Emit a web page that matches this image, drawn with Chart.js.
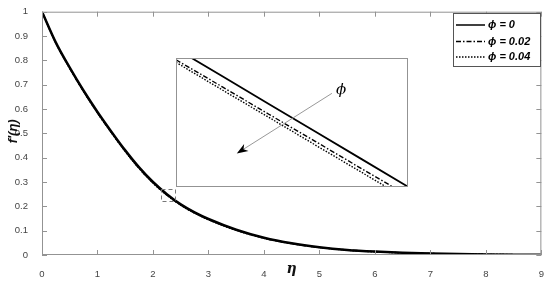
<!DOCTYPE html>
<html>
<head>
<meta charset="utf-8">
<script src="https://cdn.jsdelivr.net/npm/chart.js@4/dist/chart.umd.min.js"></script>
<style>
  body { margin: 0; background: #fff; }
  #wrap { position: relative; width: 550px; height: 281px; }
  #inset { position: absolute; }
</style>
</head>
<body>
<div id="wrap">
  <canvas id="main" width="550" height="281"></canvas>
  <canvas id="inset" width="231" height="131"></canvas>
</div>
<script>
// main curve
const eta = [0, 0.25, 0.5, 0.75, 1, 1.25, 1.5, 1.75, 2, 2.25, 2.5, 2.75, 3, 3.5, 4, 4.5, 5, 5.5, 6, 6.5, 7, 7.5, 8, 8.5, 9];
const fPhi0 = [1, 0.873, 0.77, 0.675, 0.588, 0.507, 0.43, 0.36, 0.30, 0.25, 0.208, 0.175, 0.148, 0.104, 0.071, 0.048, 0.032, 0.021, 0.014, 0.009, 0.006, 0.004, 0.0025, 0.0015, 0.001];
const fPhi002 = [1, 0.872, 0.768, 0.673, 0.585, 0.504, 0.427, 0.357, 0.297, 0.247, 0.206, 0.173, 0.146, 0.103, 0.070, 0.047, 0.031, 0.021, 0.014, 0.009, 0.006, 0.004, 0.0025, 0.0015, 0.001];
const fPhi004 = [1, 0.871, 0.767, 0.672, 0.584, 0.503, 0.426, 0.356, 0.296, 0.246, 0.205, 0.172, 0.145, 0.102, 0.069, 0.047, 0.031, 0.020, 0.013, 0.009, 0.006, 0.004, 0.0025, 0.0015, 0.001];

// zoomed window
const etaZoom = [2.15, 2.20, 2.25, 2.30, 2.35, 2.40];
const zPhi0 = [0.2756, 0.2649, 0.2542, 0.2435, 0.2328, 0.2221];
const zPhi002 = [0.2713, 0.2608, 0.2502, 0.2397, 0.2291, 0.2186];
const zPhi004 = [0.2703, 0.2596, 0.2490, 0.2383, 0.2277, 0.2170];
const zoomX = [2.15, 2.40];
const zoomY = [0.222, 0.272];
const insetX = [2.42, 6.59];
const insetY = [0.278, 0.809];

const xTicks = [0, 1, 2, 3, 4, 5, 6, 7, 8, 9];
const yTicks = [0, 0.1, 0.2, 0.3, 0.4, 0.5, 0.6, 0.7, 0.8, 0.9, 1];
const yTickLabels = ['0', '0.1', '0.2', '0.3', '0.4', '0.5', '0.6', '0.7', '0.8', '0.9', '1'];

const legendNames = ['\u03d5 = 0', '\u03d5 = 0.02', '\u03d5 = 0.04'];
const dashes = [[], [5, 2, 1.5, 2], [1.5, 1.5]];
const frameColor = '#939393';

const pts = (xs, ys) => xs.map((x, i) => ({ x: x, y: ys[i] }));

const framePlugin = {
    id: 'frame',
    afterDraw(chart) {
        const ctx = chart.ctx;
        const a = chart.chartArea;
        const sx = chart.scales.x, sy = chart.scales.y;
        ctx.save();
        ctx.strokeStyle = frameColor;
        ctx.lineWidth = 1;
        ctx.strokeRect(a.left + 0.5, a.top + 0.5, a.right - a.left - 1, a.bottom - a.top - 1);
        // inward ticks on all sides
        ctx.beginPath();
        xTicks.forEach(v => {
            const p = Math.round(sx.getPixelForValue(v)) + 0.5;
            ctx.moveTo(p, a.bottom); ctx.lineTo(p, a.bottom - 5);
            ctx.moveTo(p, a.top); ctx.lineTo(p, a.top + 5);
        });
        yTicks.forEach(v => {
            const p = Math.round(sy.getPixelForValue(v)) + 0.5;
            ctx.moveTo(a.left, p); ctx.lineTo(a.left + 5, p);
            ctx.moveTo(a.right, p); ctx.lineTo(a.right - 5, p);
        });
        ctx.stroke();

        // dashed box marking the zoomed window
        ctx.setLineDash([4, 3]);
        ctx.strokeStyle = '#777';
        const bx1 = sx.getPixelForValue(zoomX[0]), bx2 = sx.getPixelForValue(zoomX[1]);
        const by1 = sy.getPixelForValue(zoomY[1]), by2 = sy.getPixelForValue(zoomY[0]);
        ctx.strokeRect(Math.round(bx1) + 0.5, Math.round(by1) + 0.5, Math.round(bx2 - bx1), Math.round(by2 - by1));
        ctx.setLineDash([]);

        // axis titles
        ctx.fillStyle = '#111';
        ctx.font = 'bold italic 14px "DejaVu Serif"';
        ctx.textAlign = 'center';
        ctx.textBaseline = 'middle';
        ctx.fillText('\u03b7', (a.left + a.right) / 2, 269);
        ctx.save();
        ctx.translate(13, (a.top + a.bottom) / 2 - 2);
        ctx.rotate(-Math.PI / 2);
        ctx.font = 'bold italic 13px "Liberation Sans"';
        ctx.fillText("f'(\u03b7)", 0, 0);
        ctx.restore();

        // legend
        const lx = 453.5, ly = 13.5, lw = 87, lh = 53;
        ctx.fillStyle = '#fff';
        ctx.fillRect(lx, ly, lw, lh);
        ctx.strokeStyle = '#555';
        ctx.strokeRect(lx, ly, lw, lh);
        const rows = [25, 41.5, 57];
        ctx.font = 'bold italic 11px "Liberation Sans"';
        ctx.textAlign = 'left';
        legendNames.forEach((name, i) => {
            ctx.strokeStyle = '#000';
            ctx.lineWidth = 1.5;
            ctx.setLineDash(dashes[i]);
            ctx.beginPath();
            ctx.moveTo(456, rows[i]); ctx.lineTo(485, rows[i]);
            ctx.stroke();
            ctx.setLineDash([]);
            ctx.fillStyle = '#000';
            ctx.fillText(name, 488, rows[i]);
        });
        ctx.restore();
    }
};

const mainChart = new Chart(document.getElementById('main'), {
    type: 'line',
    data: {
        datasets: [
            { data: pts(eta, fPhi004), borderColor: '#000', borderWidth: 1.5, borderDash: dashes[2] },
            { data: pts(eta, fPhi002), borderColor: '#000', borderWidth: 1.5, borderDash: dashes[1] },
            { data: pts(eta, fPhi0), borderColor: '#000', borderWidth: 2.5 }
        ]
    },
    options: {
        responsive: false,
        animation: false,
        devicePixelRatio: 1,
        layout: { padding: { left: 0, top: 9, right: 8, bottom: 0 } },
        elements: { point: { radius: 0 }, line: { cubicInterpolationMode: 'monotone' } },
        plugins: { legend: { display: false }, tooltip: { enabled: false } },
        scales: {
            x: {
                type: 'linear', min: 0, max: 9,
                grid: { display: false }, border: { display: false },
                afterBuildTicks: s => { s.ticks = xTicks.map(v => ({ value: v })); },
                afterFit: s => { s.height = 26; },
                ticks: { padding: 6, color: '#444', font: { family: 'Liberation Sans', size: 9.5 }, maxRotation: 0 }
            },
            y: {
                type: 'linear', min: 0, max: 1,
                grid: { display: false }, border: { display: false },
                afterBuildTicks: s => { s.ticks = yTicks.map(v => ({ value: v })); },
                afterFit: s => { s.width = 42; },
                ticks: {
                    padding: 6, color: '#444', font: { family: 'Liberation Sans', size: 9.5 },
                    callback: (v, i) => yTickLabels[i]
                }
            }
        }
    },
    plugins: [framePlugin]
});

// place the inset over the main plot
const mx = mainChart.scales.x, my = mainChart.scales.y;
const insetEl = document.getElementById('inset');
const ix = Math.round(mx.getPixelForValue(insetX[0]));
const iy = Math.round(my.getPixelForValue(insetY[1]));
const iw = Math.round(mx.getPixelForValue(insetX[1])) - ix;
const ih = Math.round(my.getPixelForValue(insetY[0])) - iy;
insetEl.style.left = ix + 'px';
insetEl.style.top = iy + 'px';
insetEl.width = iw;
insetEl.height = ih;

// arrow inside the inset (in inset data units)
const arrowFrom = { x: 2.318, y: 0.2583 };
const arrowTo = { x: 2.2155, y: 0.2350 };

const insetPlugin = {
    id: 'insetFrame',
    beforeDraw(chart) {
        const ctx = chart.ctx;
        ctx.save();
        ctx.fillStyle = '#fff';
        ctx.fillRect(0, 0, chart.width, chart.height);
        ctx.restore();
    },
    afterDraw(chart) {
        const ctx = chart.ctx;
        const sx = chart.scales.x, sy = chart.scales.y;
        ctx.save();
        ctx.strokeStyle = frameColor;
        ctx.lineWidth = 1;
        ctx.strokeRect(0.5, 0.5, chart.width - 1, chart.height - 1);

        const x1 = sx.getPixelForValue(arrowFrom.x), y1 = sy.getPixelForValue(arrowFrom.y);
        const x2 = sx.getPixelForValue(arrowTo.x), y2 = sy.getPixelForValue(arrowTo.y);
        const ang = Math.atan2(y2 - y1, x2 - x1);
        ctx.strokeStyle = '#999';
        ctx.beginPath();
        ctx.moveTo(x1, y1);
        ctx.lineTo(x2 - 8 * Math.cos(ang), y2 - 8 * Math.sin(ang));
        ctx.stroke();
        ctx.fillStyle = '#000';
        ctx.beginPath();
        ctx.moveTo(x2, y2);
        ctx.lineTo(x2 - 12 * Math.cos(ang - 0.35), y2 - 12 * Math.sin(ang - 0.35));
        ctx.lineTo(x2 - 8 * Math.cos(ang), y2 - 8 * Math.sin(ang));
        ctx.lineTo(x2 - 12 * Math.cos(ang + 0.35), y2 - 12 * Math.sin(ang + 0.35));
        ctx.closePath();
        ctx.fill();

        ctx.font = 'italic 15px "DejaVu Serif"';
        ctx.textAlign = 'left';
        ctx.textBaseline = 'middle';
        ctx.fillText('\u03d5', x1 + 4, y1 - 3);
        ctx.restore();
    }
};

new Chart(insetEl, {
    type: 'line',
    data: {
        datasets: [
            { data: pts(etaZoom, zPhi0), borderColor: '#000', borderWidth: 1.8 },
            { data: pts(etaZoom, zPhi002), borderColor: '#000', borderWidth: 1.4, borderDash: dashes[1] },
            { data: pts(etaZoom, zPhi004), borderColor: '#000', borderWidth: 1.4, borderDash: dashes[2] }
        ]
    },
    options: {
        responsive: false,
        animation: false,
        devicePixelRatio: 1,
        layout: { padding: 0 },
        elements: { point: { radius: 0 } },
        plugins: { legend: { display: false }, tooltip: { enabled: false } },
        scales: {
            x: { type: 'linear', min: zoomX[0], max: zoomX[1], display: false },
            y: { type: 'linear', min: zoomY[0], max: zoomY[1], display: false }
        }
    },
    plugins: [insetPlugin]
});
</script>
</body>
</html>
